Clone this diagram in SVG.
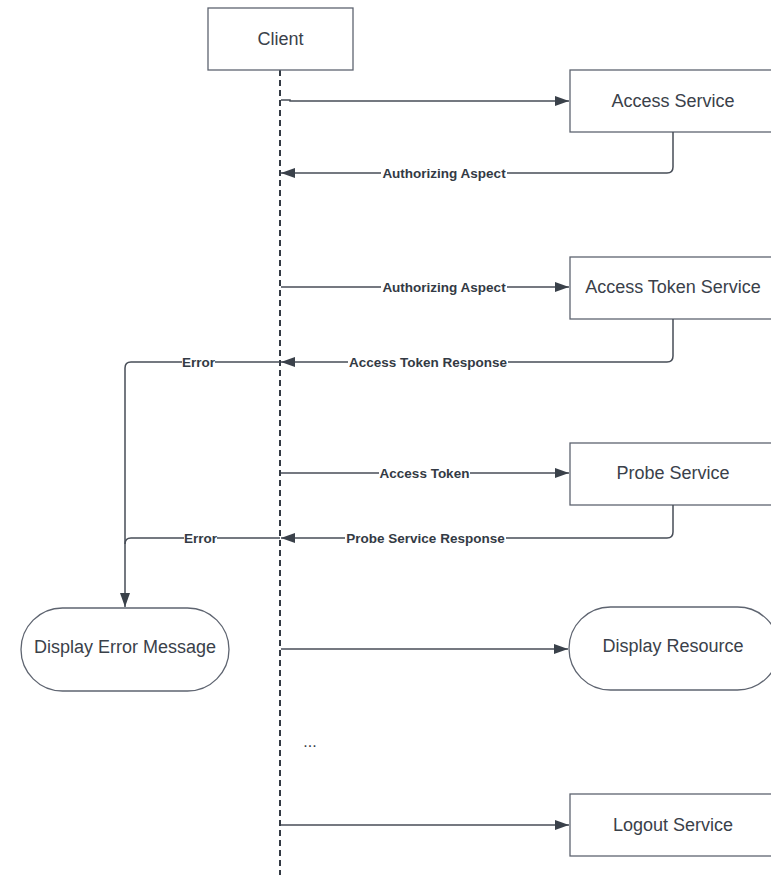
<svg xmlns="http://www.w3.org/2000/svg" width="771" height="875" viewBox="0 0 771 875">
<style>
.node{fill:#ffffff;stroke:#5e6470;stroke-width:1.3}
.nt{font-family:"Liberation Sans",Arial,sans-serif;font-size:18px;fill:#3a414a;text-anchor:middle;dominant-baseline:central}
.c{fill:none;stroke:#474d57;stroke-width:1.5}
.lbl{font-family:"Liberation Sans",Arial,sans-serif;font-size:13.5px;font-weight:bold;fill:#333a44;text-anchor:middle;dominant-baseline:central}
.lb{fill:#ffffff}
.life{stroke:#333a44;stroke-width:2;stroke-dasharray:6,4;fill:none}
</style>
<defs>
<marker id="ah" markerWidth="14" markerHeight="10" refX="14" refY="5" orient="auto" markerUnits="userSpaceOnUse">
<path d="M0,0 L14,5 L0,10 Z" fill="#3a414a"/>
</marker>
</defs>
<rect width="771" height="875" fill="#ffffff"/>
<g id="lifeline"><line class="life" x1="280" y1="70" x2="280" y2="875"/></g>
<g id="client"><rect class="node" x="208" y="8" width="145" height="62"/><text class="nt" x="280.5" y="39">Client</text></g>
<g id="access-service"><rect class="node" x="570" y="70" width="210" height="62"/><text class="nt" x="673" y="101">Access Service</text></g>
<g id="access-token-service"><rect class="node" x="570" y="257" width="210" height="62"/><text class="nt" x="673" y="287">Access Token Service</text></g>
<g id="probe-service"><rect class="node" x="570" y="443" width="210" height="62"/><text class="nt" x="673" y="473">Probe Service</text></g>
<g id="display-error"><rect class="node" x="21" y="608" width="208" height="83" rx="41.5"/><text class="nt" x="125" y="647">Display Error Message</text></g>
<g id="display-resource"><rect class="node" x="569" y="607" width="210" height="83" rx="41.5"/><text class="nt" x="673" y="646">Display Resource</text></g>
<g id="logout-service"><rect class="node" x="570" y="794" width="210" height="62"/><text class="nt" x="673" y="825">Logout Service</text></g>
<g id="dots"><text x="310" y="747" font-family="Liberation Sans, Arial, sans-serif" font-size="16" fill="#3a414a" text-anchor="middle">...</text></g>
<g id="connectors">
<path class="c" d="M281,100 L290,100 L290,101 L569,101" marker-end="url(#ah)"/>
<path class="c" d="M673,132 L673,167 Q673,173 667,173 L281,173" marker-end="url(#ah)"/>
<path class="c" d="M281,287 L569,287" marker-end="url(#ah)"/>
<path class="c" d="M673,319 L673,356 Q673,362 667,362 L281,362" marker-end="url(#ah)"/>
<path class="c" d="M280,362 L131,362 Q125,362 125,368 L125,607" marker-end="url(#ah)"/>
<path class="c" d="M281,473 L569,473" marker-end="url(#ah)"/>
<path class="c" d="M673,505 L673,532 Q673,538 667,538 L281,538" marker-end="url(#ah)"/>
<path class="c" d="M280,538 L131,538 Q125,538 125,544"/>
<path class="c" d="M281,649 L568,649" marker-end="url(#ah)"/>
<path class="c" d="M281,825 L569,825" marker-end="url(#ah)"/>
<rect class="lb" x="381" y="165" width="126" height="16"/><text class="lbl" x="444" y="173">Authorizing Aspect</text>
<rect class="lb" x="381" y="279" width="126" height="16"/><text class="lbl" x="444" y="287">Authorizing Aspect</text>
<rect class="lb" x="348" y="354" width="160" height="16"/><text class="lbl" x="428" y="362">Access Token Response</text>
<rect class="lb" x="182" y="354" width="33" height="16"/><text class="lbl" x="198.5" y="362">Error</text>
<rect class="lb" x="379" y="465" width="91" height="16"/><text class="lbl" x="424.5" y="473">Access Token</text>
<rect class="lb" x="345" y="530" width="161" height="16"/><text class="lbl" x="425.5" y="538">Probe Service Response</text>
<rect class="lb" x="184" y="530" width="33" height="16"/><text class="lbl" x="200.5" y="538">Error</text>
</g>
</svg>
